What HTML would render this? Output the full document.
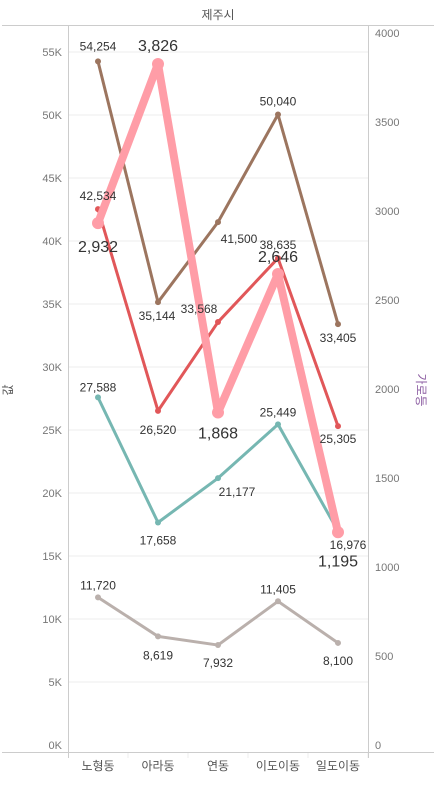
<!DOCTYPE html>
<html><head><meta charset="utf-8"><style>
body{margin:0;background:#fff;}
svg text{font-family:"Liberation Sans","Noto Sans CJK KR",sans-serif;}
</style></head><body>
<svg width="440" height="782">
<text x="218" y="19" text-anchor="middle" font-size="12" fill="#555">제주시</text>
<line x1="2" y1="25.5" x2="434" y2="25.5" stroke="#ccc"/>
<g id="grid"></g>
<line x1="68.5" y1="25" x2="68.5" y2="758" stroke="#ccc"/>
<line x1="368.5" y1="25" x2="368.5" y2="758" stroke="#ccc"/>
<line x1="2" y1="752.5" x2="434" y2="752.5" stroke="#ccc"/>
<text transform="translate(12,390) rotate(-90)" text-anchor="middle" font-size="12" fill="#555">값</text>
<text transform="translate(417,390) rotate(90)" text-anchor="middle" font-size="12" fill="#8a5aa0">가로등</text>
<g id="lines"></g>
<g id="labels"></g>
</svg>
<script>
const categories=["노형동","아라동","연동","이도이동","일도이동"];
const brown=[54254,35144,41500,50040,33405];
const red=[42534,26520,33568,38635,25305];
const teal=[27588,17658,21177,25449,16976];
const gray=[11720,8619,7932,11405,8100];
const lights=[2932,3826,1868,2646,1195];
const leftTicks=[0,5,10,15,20,25,30,35,40,45,50,55];
const rightTicks=[0,500,1000,1500,2000,2500,3000,3500,4000];
const NS="http://www.w3.org/2000/svg";
const X=i=>98+i*60;
const Y=v=>745-v/55000*693;
const Y2=v=>745-v/4000*712;
const fmt=v=>v.toLocaleString('en-US');
function mk(t,a,p){const e=document.createElementNS(NS,t);for(const k in a)e.setAttribute(k,a[k]);p.appendChild(e);return e;}
const grid=document.getElementById('grid');
const LG=document.getElementById('lines');
const TG=document.getElementById('labels');
leftTicks.forEach(t=>{const y=Y(t*1000);
 const g=mk('line',{x1:69,x2:368,y1:y,y2:y,stroke:t?'#eee':'none'},grid);
 
 
 const l=mk('text',{x:62,y:y+4,'text-anchor':'end','font-size':11,fill:'#777'},grid);l.textContent=t+'K';
 
 });
rightTicks.forEach(t=>{const l=mk('text',{x:375,y:Y2(t)+4,'font-size':11,fill:'#777'},grid);l.textContent=t;
 
 });
categories.forEach((c,i)=>{const l=mk('text',{x:X(i),y:770,'text-anchor':'middle','font-size':12,fill:'#555'},grid);l.textContent=c;
 
 
 const s=mk('line',{x1:X(i)+30,x2:X(i)+30,y1:752,y2:758,stroke:'#eee'},grid);
 
 });
function series(vals,yf,color,w,r,name,offs,fs){
 const p=mk('polyline',{points:vals.map((v,i)=>X(i)+','+yf(v)).join(' '),fill:'none',stroke:color,'stroke-width':w,'stroke-linejoin':'round','stroke-linecap':'round'},LG);
 
 
 vals.forEach((v,i)=>{const c=mk('circle',{cx:X(i),cy:yf(v),r:r,fill:color},LG);
  
  
  const t=mk('text',{x:X(i)+offs[i][0],y:yf(v)+offs[i][1],'text-anchor':'middle','font-size':fs,fill:'#333'},TG);t.textContent=fmt(v);
  
  });
}
series(gray,Y,'#bab0ac',3,3,'gray-series',[[0,-8],[0,23],[0,22],[0,-8],[0,22]],12);
series(teal,Y,'#76b7b2',3,3,'teal-series',[[0,-6],[0,22],[19,18],[0,-8],[10,18]],12);
series(red,Y,'#e15759',3,3,'red-series',[[0,-9],[0,23],[-19,-9],[0,-9],[0,17]],12);
series(brown,Y,'#9c755f',3,3,'brown-series',[[0,-11],[-1,18],[21,21],[0,-9],[0,18]],12);
series(lights,Y2,'#ff9da7',8,6,'streetlight-series',[[0,29],[0,-13],[0,26],[0,-12],[0,34]],16);
</script>
</body></html>
